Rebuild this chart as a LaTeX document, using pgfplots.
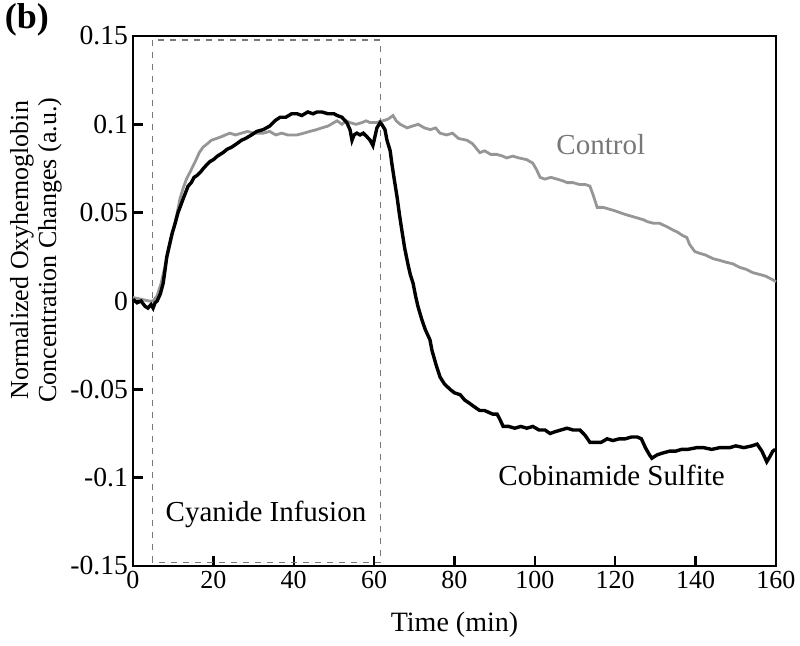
\documentclass[border=0pt]{standalone}
\usepackage{fontspec}
\setmainfont{Liberation Serif}
\usepackage{pgfplots}
\pgfplotsset{compat=1.18}
\definecolor{ctrlgray}{RGB}{150,150,150}
\definecolor{boxgray}{RGB}{120,120,120}
\begin{document}
\begin{tikzpicture}[font=\fontsize{13}{15}\selectfont]
\useasboundingbox (-66.5pt,-39.5pt) rectangle (333.5pt,283pt);
\begin{axis}[
  at={(0,0)}, anchor=south west,
  scale only axis, width=321.5pt, height=265pt,
  xmin=0, xmax=160, ymin=-0.15, ymax=0.15,
  xtick={0,20,...,160},
  ytick={-0.15,-0.1,-0.05,0,0.05,0.1,0.15},
  yticklabels={-0.15,-0.1,-0.05,0,0.05,0.1,0.15},
  /pgf/number format/assume math mode=true,
  tick align=inside, xtick pos=bottom, ytick pos=left,
  major tick length=5pt,
  axis line style={line width=1.3pt},
  every tick/.style={black, line width=1.2pt},
  tick label style={font=\fontsize{13}{15}\selectfont},
  yticklabel style={font=\fontsize{13.8}{15}\selectfont, xshift=1pt},
  xticklabel style={yshift=1pt},
  clip=false,
]
% cyanide infusion box
\draw[boxgray, dashed, line width=0.6pt, dash pattern=on 3pt off 3pt]
  (axis cs:4.8,-0.148) rectangle (axis cs:61.5,0.1477);
% Control
\addplot[ctrlgray, line width=1.4pt] coordinates {
(0,0.002)(2,0.001)(4,0.000)(5,0.000)(6,0.003)(7,0.010)(8,0.020)(9,0.030)(10,0.040)(11,0.050)
(11.7,0.058)(12.5,0.064)(13.3,0.069)(14.2,0.073)(15.5,0.079)(16.5,0.084)(17.4,0.087)(18.5,0.089)
(19.5,0.091)(20.8,0.092)(22,0.093)(23,0.094)(24.1,0.095)(25.5,0.094)(27,0.095)(28.5,0.096)
(30,0.095)(32.4,0.095)(34,0.096)(35.5,0.094)(37,0.095)(38.5,0.094)(40.8,0.094)(42.5,0.095)
(44,0.096)(45.7,0.097)(47,0.098)(48.5,0.099)(50,0.101)(50.8,0.102)(52,0.100)(53,0.102)(54,0.101)
(55.5,0.100)(57,0.101)(58,0.102)(59,0.101)(60.5,0.101)(62.2,0.102)(63.5,0.103)(64.7,0.105)
(65.5,0.102)(66.5,0.100)(68.2,0.098)(69.5,0.099)(71,0.100)(72.5,0.098)(74,0.097)(75.3,0.098)
(76.4,0.095)(78,0.094)(79.5,0.095)(81,0.092)(83.1,0.091)(84.5,0.089)(86.3,0.084)(87.5,0.085)
(89,0.083)(90.5,0.083)(92,0.082)(93,0.081)(94.5,0.082)(96,0.081)(98,0.080)(99.5,0.078)
(100.5,0.074)(101.3,0.070)(102.5,0.069)(104,0.070)(105.5,0.069)(107,0.068)(108,0.067)
(109.5,0.067)(111,0.066)(112.5,0.066)(113.7,0.065)(114.5,0.060)(115.5,0.053)(117,0.053)
(118.5,0.052)(120,0.051)(121.2,0.050)(122.5,0.049)(124,0.048)(125.5,0.047)(127,0.046)
(127.9,0.045)(129.5,0.044)(131,0.044)(132.9,0.042)(134.5,0.040)(135.5,0.039)(136.8,0.037)
(137.8,0.036)(138.5,0.032)(139.8,0.028)(141,0.027)(142.5,0.026)(144.3,0.024)(146,0.023)
(147.5,0.022)(149.3,0.021)(151,0.019)(152.5,0.018)(154.3,0.016)(156,0.015)(157.5,0.014)
(159.2,0.012)(160,0.011)
};
% Cobinamide Sulfite
\addplot[black, line width=1.7pt] coordinates {
(0,0.001)(1,-0.001)(2,0.000)(3,-0.003)(3.7,-0.004)(4.5,-0.002)(5,-0.004)(5.5,-0.001)(6,0.000)
(6.8,0.004)(7.5,0.010)(8,0.018)(8.4,0.025)(9,0.031)(9.7,0.038)(10.5,0.044)(11.2,0.050)
(11.7,0.053)(12.5,0.058)(13.2,0.062)(13.7,0.065)(14.5,0.067)(15.2,0.070)(15.9,0.071)
(16.8,0.073)(17.5,0.075)(18.3,0.077)(19.2,0.079)(20,0.080)(21,0.082)(22.4,0.084)(23.5,0.086)
(24.5,0.087)(25.8,0.089)(27,0.091)(28,0.092)(29.5,0.094)(30.8,0.096)(32.4,0.097)(34,0.099)
(35.3,0.102)(36.6,0.104)(38,0.104)(39.5,0.106)(40.8,0.106)(42,0.105)(43.5,0.107)(44.8,0.106)
(45.8,0.107)(47,0.107)(48.5,0.106)(50,0.106)(50.8,0.105)(52,0.104)(53.2,0.101)(54,0.097)
(54.5,0.091)(55,0.094)(55.7,0.095)(56.5,0.094)(57.3,0.095)(58.2,0.093)(59,0.091)(59.7,0.088)
(60.2,0.093)(60.7,0.098)(61.5,0.101)(61.9,0.100)(62.7,0.097)(63.2,0.091)(64,0.085)(64.4,0.078)
(65,0.069)(65.7,0.059)(66.3,0.049)(66.9,0.040)(67.6,0.030)(68.4,0.021)(69,0.015)(69.7,0.010)
(70.3,0.003)(70.9,-0.003)(71.8,-0.010)(72.7,-0.016)(73.9,-0.022)(74.4,-0.028)(75.4,-0.036)
(76.4,-0.043)(77.5,-0.047)(78.9,-0.050)(80,-0.052)(81.4,-0.053)(82.5,-0.056)(83.8,-0.058)
(85,-0.060)(86.3,-0.062)(87.5,-0.062)(88.5,-0.063)(89.5,-0.064)(90.6,-0.064)(91.3,-0.067)
(92.1,-0.071)(93.5,-0.071)(95,-0.072)(96.5,-0.071)(98,-0.072)(99.5,-0.071)(101,-0.073)
(102.5,-0.073)(103.8,-0.075)(105,-0.074)(106.5,-0.073)(108,-0.072)(109.5,-0.073)(111.2,-0.073)
(112.5,-0.076)(113.7,-0.080)(115,-0.080)(116.5,-0.080)(118,-0.078)(119.4,-0.079)(121,-0.078)
(122.5,-0.078)(124,-0.077)(125.5,-0.077)(126.5,-0.078)(127.5,-0.083)(128.5,-0.087)
(129.1,-0.089)(130.5,-0.087)(131.9,-0.086)(133.5,-0.085)(135,-0.085)(136.5,-0.084)
(138,-0.084)(140.3,-0.083)(142,-0.083)(144,-0.084)(146,-0.083)(148.5,-0.083)(150,-0.082)
(152,-0.083)(154,-0.082)(155.3,-0.081)(156.5,-0.085)(157.7,-0.091)(158.5,-0.088)
(159.2,-0.085)(159.8,-0.084)
};
\node[ctrlgray!80!black, font=\fontsize{14.5}{17}\selectfont] at (axis cs:116.4,0.0883) {Control};
\node[font=\fontsize{14.5}{17}\selectfont] at (axis cs:119.1,-0.0985) {Cobinamide Sulfite};
\node[font=\fontsize{14.5}{17}\selectfont] at (axis cs:33.1,-0.121) {Cyanide Infusion};
\node[font=\fontsize{14}{16}\selectfont] at (axis description cs:0.5,-0.111) {Time (min)};
\node[rotate=90, align=center, font=\fontsize{13}{14}\selectfont] at (axis description cs:-0.151,0.596)
  {Normalized Oxyhemoglobin\\Concentration Changes (a.u.)};
\node[font=\fontsize{18}{20}\selectfont\bfseries] at (axis description cs:-0.165,1.030) {(b)};
\end{axis}
\end{tikzpicture}
\end{document}
